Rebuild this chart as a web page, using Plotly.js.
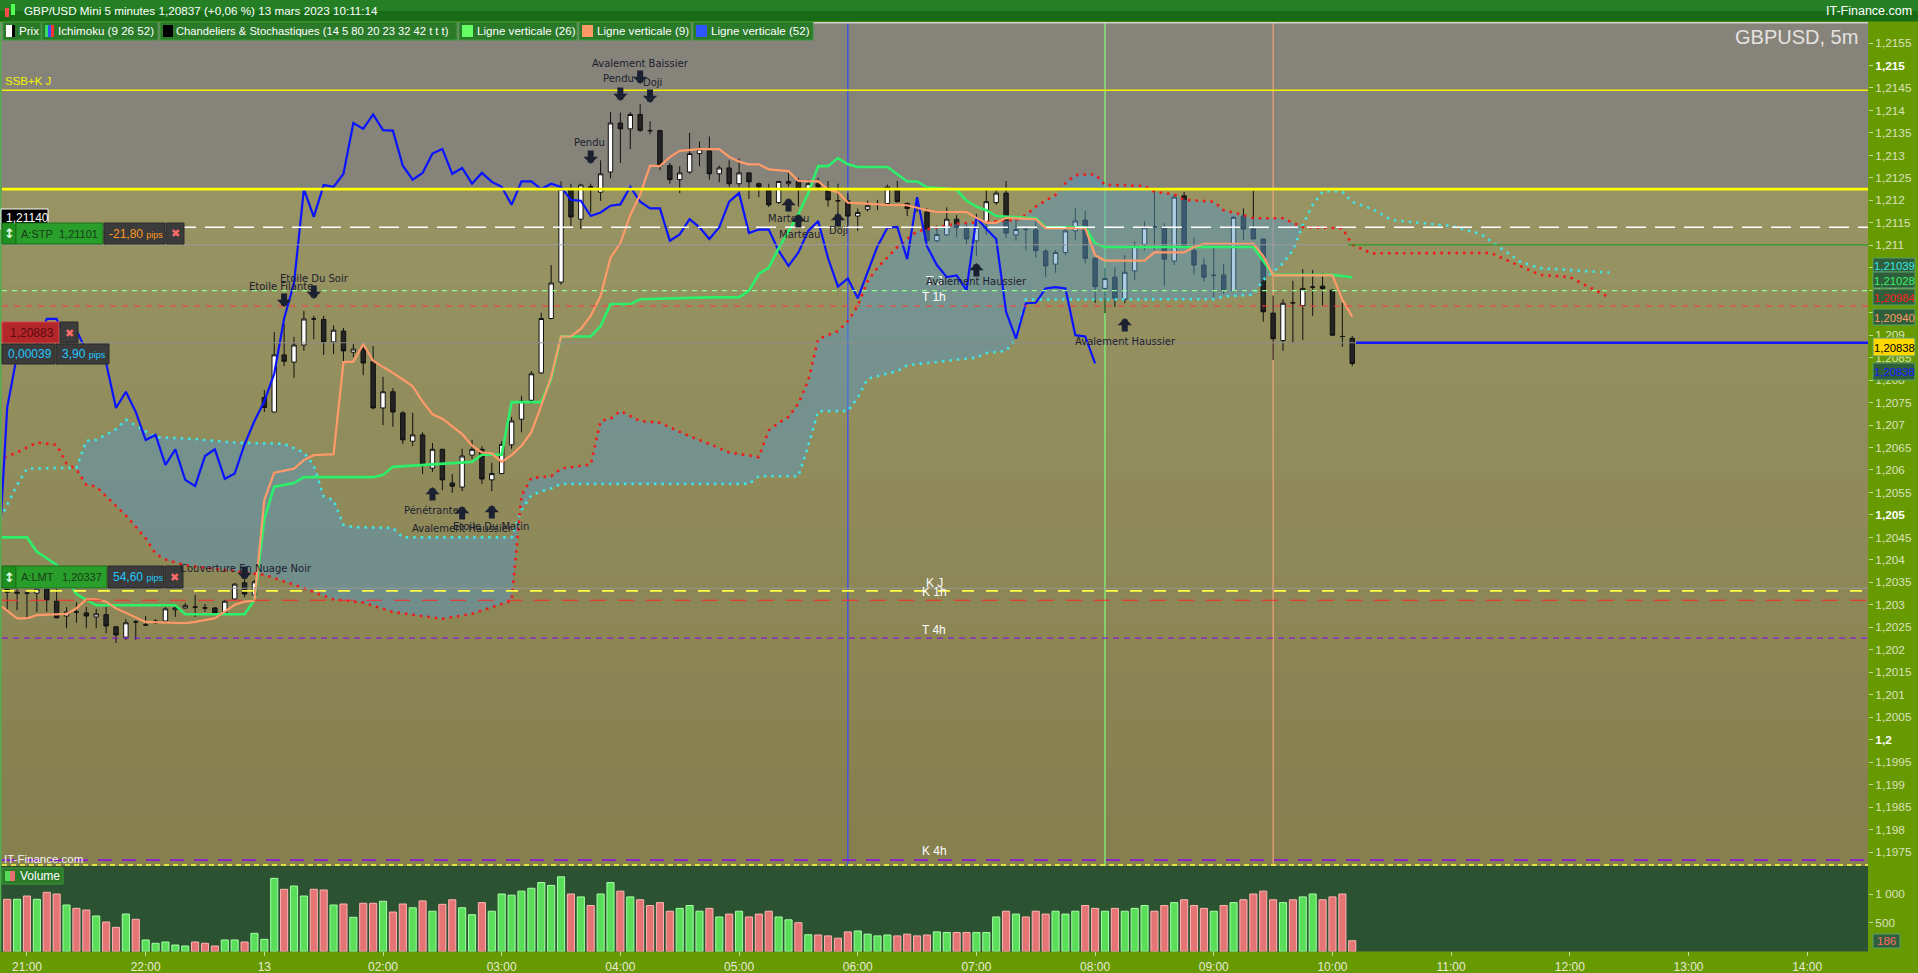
<!DOCTYPE html>
<html><head><meta charset="utf-8">
<script src="https://cdn.plot.ly/plotly-3.0.1.min.js"></script>
<style>html,body{margin:0;padding:0;background:#679900;overflow:hidden}</style>
</head><body><div id="chart" style="width:1918px;height:973px"></div>
<script>
// ---------------- DATA ----------------
const opens = [1.20335,1.20328,1.20326,1.20326,1.20335,1.20308,1.20275,1.20284,1.20282,1.20273,
1.20278,1.20251,1.20228,1.20262,1.20255,1.20260,1.20264,1.20289,1.20293,1.20295,
1.20293,1.20293,1.20282,1.20313,1.20349,1.20322,1.20761,1.20729,1.20856,1.20840,
1.20878,1.20936,1.20935,1.20885,1.20909,1.20862,1.20869,1.20841,1.20738,1.20774,
1.20727,1.20664,1.20678,1.20604,1.20646,1.20571,1.20562,1.20633,1.20646,1.20578,
1.20592,1.20656,1.20713,1.20755,1.20816,1.20937,1.21018,1.21225,1.21158,1.21230,
1.21218,1.21263,1.21372,1.21359,1.21391,1.21355,1.21355,1.21277,1.21246,1.21263,
1.21304,1.21310,1.21259,1.21272,1.21237,1.21261,1.21237,1.21223,1.21195,1.21237,
1.21242,1.21225,1.21237,1.21221,1.21199,1.21199,1.21165,1.21180,1.21190,1.21193,
1.21225,1.21193,1.21182,1.21174,1.21110,1.21123,1.21158,1.21140,1.21110,1.21150,
1.21195,1.21216,1.21123,1.21135,1.21134,1.21087,1.21058,1.21084,1.21132,1.21156,
1.21071,1.21004,1.21029,1.20980,1.21043,1.21102,1.21141,1.21140,1.21065,1.21210,
1.21088,1.21056,1.21033,1.21034,1.20999,1.21165,1.21136,1.21114,1.20949,1.20888,
1.20972,1.20966,1.21007,1.21009,1.21000,1.20897,1.20893];
const highs = [1.20340,1.20335,1.20330,1.20340,1.20340,1.20335,1.20295,1.20306,1.20295,1.20291,
1.20295,1.20253,1.20268,1.20266,1.20275,1.20268,1.20295,1.20300,1.20304,1.20322,
1.20302,1.20295,1.20311,1.20348,1.20355,1.20355,1.20778,1.20907,1.20925,1.20896,
1.20954,1.20943,1.20943,1.20922,1.20916,1.20880,1.20876,1.20876,1.20807,1.20782,
1.20731,1.20727,1.20684,1.20660,1.20647,1.20591,1.20647,1.20667,1.20653,1.20616,
1.20664,1.20718,1.20765,1.20820,1.20950,1.21056,1.21242,1.21237,1.21237,1.21237,
1.21289,1.21396,1.21395,1.21396,1.21414,1.21376,1.21357,1.21283,1.21276,1.21350,
1.21331,1.21342,1.21277,1.21289,1.21293,1.21263,1.21240,1.21237,1.21243,1.21267,
1.21250,1.21246,1.21250,1.21243,1.21237,1.21216,1.21182,1.21199,1.21201,1.21235,
1.21243,1.21195,1.21206,1.21182,1.21144,1.21184,1.21167,1.21148,1.21170,1.21223,
1.21225,1.21243,1.21163,1.21138,1.21153,1.21091,1.21089,1.21140,1.21182,1.21176,
1.21073,1.21049,1.21051,1.21078,1.21108,1.21153,1.21223,1.21149,1.21212,1.21219,
1.21118,1.21071,1.21097,1.21058,1.21165,1.21182,1.21221,1.21114,1.20988,1.20980,
1.21021,1.21047,1.21045,1.21038,1.21002,1.20972,1.20898];
const lows = [1.20284,1.20288,1.20266,1.20284,1.20284,1.20270,1.20248,1.20260,1.20248,1.20248,
1.20237,1.20215,1.20222,1.20222,1.20253,1.20257,1.20264,1.20273,1.20291,1.20273,
1.20284,1.20280,1.20280,1.20311,1.20317,1.20320,1.20729,1.20729,1.20831,1.20805,
1.20865,1.20891,1.20856,1.20858,1.20842,1.20851,1.20811,1.20735,1.20700,1.20696,
1.20658,1.20653,1.20591,1.20596,1.20555,1.20549,1.20553,1.20624,1.20569,1.20553,
1.20591,1.20647,1.20684,1.20747,1.20814,1.20935,1.21012,1.21143,1.21136,1.21173,
1.21199,1.21249,1.21283,1.21314,1.21352,1.21347,1.21267,1.21237,1.21216,1.21259,
1.21276,1.21246,1.21240,1.21230,1.21230,1.21203,1.21207,1.21185,1.21192,1.21230,
1.21186,1.21221,1.21221,1.21186,1.21165,1.21140,1.21132,1.21175,1.21178,1.21190,
1.21195,1.21165,1.21174,1.21108,1.21107,1.21121,1.21118,1.21101,1.21076,1.21123,
1.21190,1.21116,1.21110,1.21089,1.21073,1.21030,1.21039,1.21078,1.21112,1.21060,
1.20972,1.20949,1.20963,1.20971,1.21023,1.21089,1.21089,1.21010,1.21056,1.21098,
1.21034,1.21019,1.20984,1.20992,1.20997,1.21112,1.21114,1.20930,1.20845,1.20865,
1.20883,1.20889,1.20943,1.20965,1.20898,1.20874,1.20831];
const closes = [1.20328,1.20326,1.20326,1.20335,1.20311,1.20271,1.20284,1.20284,1.20275,1.20280,
1.20253,1.20233,1.20260,1.20262,1.20255,1.20264,1.20291,1.20293,1.20298,1.20295,
1.20293,1.20282,1.20308,1.20346,1.20324,1.20351,1.20739,1.20856,1.20842,1.20878,
1.20936,1.20936,1.20885,1.20911,1.20865,1.20869,1.20838,1.20738,1.20774,1.20729,
1.20667,1.20678,1.20611,1.20646,1.20578,1.20564,1.20631,1.20646,1.20580,1.20592,
1.20657,1.20709,1.20753,1.20814,1.20937,1.21016,1.21225,1.21163,1.21234,1.21230,
1.21259,1.21372,1.21359,1.21391,1.21356,1.21355,1.21277,1.21246,1.21261,1.21304,
1.21314,1.21259,1.21272,1.21237,1.21261,1.21241,1.21230,1.21190,1.21242,1.21242,
1.21225,1.21237,1.21230,1.21201,1.21199,1.21165,1.21173,1.21188,1.21191,1.21230,
1.21197,1.21182,1.21182,1.21110,1.21124,1.21158,1.21140,1.21114,1.21140,1.21197,
1.21216,1.21127,1.21135,1.21135,1.21088,1.21054,1.21084,1.21132,1.21154,1.21071,
1.21008,1.21026,1.20982,1.21040,1.21098,1.21139,1.21141,1.21069,1.21207,1.21098,
1.21056,1.21029,1.21033,1.21000,1.21162,1.21136,1.21114,1.20952,1.20892,1.20971,
1.20972,1.21004,1.21007,1.21004,1.20900,1.20897,1.20837];
const volumes = [908,908,965,908,1029,1000,808,750,721,617,
512,419,651,559,199,141,164,111,94,164,
141,94,199,199,164,315,210,1273,1082,1139,
965,1082,1070,808,826,594,838,838,873,686,
826,760,880,700,820,900,760,640,850,700,
1000,980,1050,1100,1200,1150,1300,1000,950,800,
1000,1200,1050,950,900,800,850,700,750,800,
700,750,600,650,700,600,650,700,600,550,
500,290,286,270,230,340,356,300,270,286,
270,300,270,286,340,330,330,330,330,330,
600,700,650,600,700,650,700,650,700,800,
750,700,750,700,750,800,700,800,850,900,
800,750,700,800,850,900,1000,1050,900,850,
900,950,1000,900,950,1000,186];
const volumeDirection = ("rgrgrrgrrg"+"rrgrgggggr"+"rrggrgggrg"+"grrgrgrrgr"+"rgrgrrggrg"+
 "gggggggrgr"+"ggrgrrrrgg"+"grgrgrrrgg"+"rgrrrrgggg"+"rrrrggrrgg"+"grgrrrgggr"+"rgrgggrrgr"+"rrgrgrrrrg"+"rggrrrr").split('');

// Ichimoku (9 26 52) lines (bar index, price)
const tenkanX = [-1,1,2,3,6,7,8,9,10,11,14,17,18,19,21,22,23,24,25,26,27,29,30,31,33,34,35,36,37,38,39,41,42,43,44,46,47,48,49,50,51,52,53,54,55,56,57,58,59,60,61,62,63,64,65,66,67,68,70,72,73,74,75,76,77,79,80,82,83,84,85,89,91,93,94,97,98,99,100,101,103,104,105,109,110,111,115,116,119,120,121,126,127,128,134,135,136];
const tenkanY = [1.20304,1.20270,1.20270,1.20277,1.20280,1.20292,1.20312,1.20312,1.20307,1.20292,
1.20262,1.20259,1.20259,1.20262,1.20270,1.20285,1.20300,1.20307,1.20309,1.20533,
1.20594,1.20603,1.20622,1.20633,1.20635,1.20840,1.20841,1.20880,1.20843,1.20829,
1.20816,1.20786,1.20752,1.20724,1.20714,1.20680,1.20654,1.20639,1.20637,1.20618,
1.20633,1.20654,1.20684,1.20743,1.20807,1.20897,1.20897,1.20914,1.20943,1.20987,
1.21072,1.21105,1.21167,1.21213,1.21277,1.21276,1.21296,1.21310,1.21314,1.21314,
1.21297,1.21286,1.21280,1.21280,1.21269,1.21265,1.21243,1.21242,1.21224,1.21218,
1.21195,1.21190,1.21189,1.21178,1.21174,1.21174,1.21161,1.21150,1.21150,1.21161,
1.21158,1.21158,1.21138,1.21138,1.21078,1.21066,1.21066,1.21084,1.21084,1.21096,
1.21103,1.21103,1.21076,1.21033,1.21033,1.20979,1.20941];
const kijunX = [-1,2,3,5,7,9,17,18,24,25,26,27,29,30,37,38,39,43,47,48,50,51,54,55,56,59,60,61,63,64,71,74,75,76,77,78,79,80,81,82,83,84,85,86,89,90,91,92,93,96,97,98,99,100,104,105,109,110,111,126,128,134,136];
const kijunY = [1.20450,1.20450,1.20418,1.20389,1.20324,1.20299,1.20299,1.20279,1.20279,1.20311,
1.20491,1.20563,1.20571,1.20584,1.20584,1.20589,1.20607,1.20612,1.20618,1.20634,
1.20634,1.20751,1.20751,1.20803,1.20897,1.20897,1.20920,1.20969,1.20969,1.20980,
1.20984,1.20984,1.20999,1.21036,1.21050,1.21093,1.21131,1.21169,1.21216,1.21276,
1.21276,1.21294,1.21280,1.21274,1.21274,1.21259,1.21242,1.21242,1.21229,1.21224,
1.21199,1.21186,1.21178,1.21165,1.21160,1.21140,1.21140,1.21104,1.21096,1.21096,
1.21034,1.21034,1.21029];
const ssaX = [-1,1,2,7,8,9,11,12,13,15,19,23,28,30,31,32,33,34,35,39,40,51,52,53,54,55,56,75,76,80,81,82,85,86,87,90,91,98,99,101,102,103,122,123,126,127,128,129,130,131,132,133,134,135,136,138,140,146,149,153,155,162];
const ssaY = [1.20478,1.20567,1.20603,1.20605,1.20665,1.20667,1.20691,1.20712,1.20699,1.20673,
1.20669,1.20661,1.20658,1.20639,1.20610,1.20541,1.20533,1.20478,1.20473,1.20471,
1.20450,1.20450,1.20511,1.20544,1.20552,1.20559,1.20569,1.20569,1.20586,1.20586,
1.20654,1.20731,1.20731,1.20761,1.20803,1.20820,1.20833,1.20850,1.20860,1.20865,
1.20893,1.20979,1.20980,1.20986,1.20990,1.21023,1.21040,1.21060,1.21089,1.21145,
1.21190,1.21219,1.21221,1.21219,1.21196,1.21181,1.21156,1.21143,1.21125,1.21063,
1.21049,1.21039];
const ssbX = [-1,1,3,5,6,7,8,9,11,12,14,15,16,18,26,30,32,33,36,39,44,47,51,52,53,55,56,59,60,61,62,64,66,69,71,73,76,77,78,79,80,81,82,84,85,86,87,88,90,92,95,96,102,103,104,106,107,108,110,111,115,116,118,119,122,123,125,126,129,131,135,136,138,150,152,155,158,162];
const ssbY = [1.20622,1.20639,1.20661,1.20656,1.20614,1.20601,1.20567,1.20563,1.20520,1.20499,
1.20448,1.20414,1.20401,1.20388,1.20367,1.20337,1.20320,1.20312,1.20305,1.20284,
1.20269,1.20280,1.20309,1.20543,1.20582,1.20586,1.20603,1.20612,1.20709,1.20714,
1.20731,1.20709,1.20705,1.20675,1.20658,1.20639,1.20629,1.20688,1.20705,1.20718,
1.20748,1.20799,1.20891,1.20909,1.20931,1.20965,1.21020,1.21050,1.21096,1.21131,
1.21144,1.21148,1.21156,1.21167,1.21186,1.21212,1.21238,1.21256,1.21258,1.21234,
1.21232,1.21219,1.21213,1.21201,1.21197,1.21178,1.21167,1.21160,1.21160,1.21140,
1.21138,1.21101,1.21082,1.21083,1.21063,1.21034,1.21029,1.20984];
const chikouShift = 26; // the blue line is the close plotted 26 bars back

// horizontal levels (prices)
const ssbKjLevel = 1.21445, zoneLevel = 1.21225, markerLevel = 1.21140, stopLevel = 1.21101;
const t1hLevel = 1.20999, redLevel = 1.20965, orderLevel = 1.20883;
const lmtLevel = 1.20337, kjLevel = 1.20331, k1hLevel = 1.20310, t4hLevel = 1.20226;
const k4hLevel = 1.19732, bottomYellowLevel = 1.19721;
// vertical markers (bar index)
const vline52 = 85, vline26 = 111, vline9 = 128;

const xTickVals = [2,14,26,38,50,62,74,86,98,110,122,134,146,158,170,182];
const xTickText = ['21:00','22:00','13','02:00','03:00','04:00','05:00','06:00','07:00','08:00','09:00','10:00','11:00','12:00','13:00','14:00'];
const priceTickVals = [1.2155,1.215,1.2145,1.214,1.2135,1.213,1.2125,1.212,1.2115,1.211,1.2105,1.21,1.2095,1.209,1.2085,1.208,1.2075,1.207,1.2065,1.206,1.2055,1.205,1.2045,1.204,1.2035,1.203,1.2025,1.202,1.2015,1.201,1.2005,1.2,1.1995,1.199,1.1985,1.198,1.1975];
const priceTickText = ['1,2155','1,215','1,2145','1,214','1,2135','1,213','1,2125','1,212','1,2115','1,211','1,2105','1,21','1,2095','1,209','1,2085','1,208','1,2075','1,207','1,2065','1,206','1,2055','1,205','1,2045','1,204','1,2035','1,203','1,2025','1,202','1,2015','1,201','1,2005','1,2','1,1995','1,199','1,1985','1,198','1,1975'];
const priceTickBold = ['1,215','1,21','1,205','1,2'];
const volTickVals = [500,1000];
const volTickText = ['500','1 000'];

const patterns = [
 {bar:24, name:'Couverture En Nuage Noir', dir:'down'},
 {bar:28, name:'Etoile Filante', dir:'down'},
 {bar:31, name:'Etoile Du Soir', dir:'down'},
 {bar:43, name:'Pénétrante', dir:'up'},
 {bar:46, name:'Avalement Haussier', dir:'up'},
 {bar:49, name:'Etoile Du Matin', dir:'up'},
 {bar:59, name:'Pendu', dir:'down'},
 {bar:62, name:'Pendu', dir:'down'},
 {bar:64, name:'Avalement Baissier', dir:'down'},
 {bar:65, name:'Doji', dir:'down'},
 {bar:79, name:'Marteau', dir:'up'},
 {bar:80, name:'Marteau', dir:'up'},
 {bar:84, name:'Doji', dir:'up'},
 {bar:98, name:'Avalement Haussier', dir:'up'},
 {bar:113, name:'Avalement Haussier', dir:'up'}
];

// ---------------- LAYOUT HELPERS (pixel placement of decorations) ----------------
const W = 1918, H = 973;
const PX = p => p / W, PY = p => 1 - p / H;
const UI = 'Liberation Sans, Arial, sans-serif';
const SANS = 'DejaVu Sans, Liberation Sans, sans-serif';
const PLOT_L = 2, PLOT_R = 1868, PRICE_T = 22, PRICE_B = 866, VOL_B = 951.4;
const patternPx = [
 {tip:580,label:568,dx:0.1},{tip:307,label:287,dx:-0.35},{tip:299,label:279,dx:0.05},
 {tip:487,label:510,dx:-0.1},{tip:506,label:528,dx:0},{tip:505,label:526,dx:-0.1},
 {tip:164,label:143,dx:-0.1},{tip:101,label:79,dx:-0.2},{tip:84,label:64,dx:0},
 {tip:103,label:82,dx:0.2},{tip:198,label:218,dx:0},{tip:214,label:234,dx:0.1},
 {tip:213,label:231,dx:0.05},{tip:263,label:281,dx:0},{tip:318,label:341,dx:0.05}
];

const shapes = [], ann = [];
function rect(x0,y0,x1,y1,fill,line,lw,layer){
  shapes.push({type:'rect',xref:'paper',yref:'paper',x0:PX(x0),x1:PX(x1),y0:PY(y1),y1:PY(y0),
    fillcolor:fill,line:{color:line||fill,width:lw||0},layer:layer||'above'});
}
function text(x,y,t,color,size,anchor,family){
  ann.push({xref:'paper',yref:'paper',x:PX(x),y:PY(y),text:t,showarrow:false,xanchor:anchor||'left',
    yanchor:'middle',font:{color:color,size:size,family:family||UI}});
}
function hline(price,color,width,dash,x0,x1,layer){
  shapes.push({type:'line',xref:'paper',yref:'y',x0:PX(x0==null?PLOT_L:x0),x1:PX(x1==null?PLOT_R:x1),
    y0:price,y1:price,line:{color:color,width:width,dash:dash||'solid'},layer:layer||'above'});
}
function vline(bar,color,width){
  shapes.push({type:'line',xref:'x',yref:'paper',x0:bar,x1:bar,y0:PY(PRICE_B),y1:PY(PRICE_T),
    line:{color:color,width:width},layer:'below'});
}

// backgrounds
const oliveTop=[152,147,99], oliveBot=[134,128,79];
const nb=14, yStart=189, yEnd=PRICE_B;
for(let k=0;k<nb;k++){
  const t=k/(nb-1);
  const c=oliveTop.map((v,j)=>Math.round(v+(oliveBot[j]-v)*t));
  rect(PLOT_L-2, yStart+(yEnd-yStart)*k/nb, PLOT_R, yStart+(yEnd-yStart)*(k+1)/nb+0.5,'rgb('+c.join(',')+')',null,0,'below');
}
rect(PLOT_L-2, PRICE_T, PLOT_R, yStart, '#85837a', null, 0, 'below');
rect(PLOT_L-2, PRICE_B, PLOT_R, VOL_B, '#2c5331', null, 0, 'below');

// vertical lines
vline(vline52,'#2f4dff',1.2);
vline(vline26,'#7dff7d',1.2);
vline(vline9,'#f0a27a',1.2);

// horizontal levels
hline(ssbKjLevel,'#f2f200',1.6);
hline(zoneLevel,'#ffff00',2.6);
hline(markerLevel,'#ffffff',1.6,'20px,9px');
hline(stopLevel,'#9c9c9c',1,'solid',PLOT_L,1348);
hline(stopLevel,'#2e9a2e',1.2,'solid',1348,PLOT_R);
hline(t1hLevel,'#8dff8d',1.2,'5px,5px');
hline(redLevel,'#ff3a3a',1.1,'6px,6px');
hline(orderLevel,'#8e8e8e',1);
hline(orderLevel,'#1414ff',2.6,'solid',1356,PLOT_R);
hline(lmtLevel,'#9a9a9a',1);
hline(kjLevel,'#ffff40',1.6,'12px,12px');
hline(k1hLevel,'#ff2a2a',1.1,'16px,12px');
hline(t4hLevel,'#8a1ad6',1.3,'6px,5px');
hline(k4hLevel,'#8a1ad6',1.6,'14px,10px');
hline(bottomYellowLevel,'#ffff40',1.6,'5px,4px');

// borders
shapes.push({type:'line',xref:'paper',yref:'paper',x0:PX(0.6),x1:PX(0.6),y0:PY(VOL_B),y1:PY(PRICE_T),line:{color:'#4fb04f',width:1.5},layer:'above'});
shapes.push({type:'line',xref:'paper',yref:'paper',x0:PX(813),x1:PX(PLOT_R),y0:PY(22.7),y1:PY(22.7),line:{color:'#d2d2d2',width:1.5},layer:'above'});

// header
rect(0,0,W,11,'#258025',null,0,'above');
rect(0,11,W,21.5,'#186c18',null,0,'above');
rect(5,8,9,17,'#ff4a4a',null,0,'above');
rect(11,4,15,15,'#52ff52',null,0,'above');
text(22,11,'GBP/USD Mini 5 minutes 1,20837 (+0,06 %) 13 mars 2023 10:11:14','#ffffff',11.7);
text(1914,11,'IT-Finance.com','#ffffff',12.5,'right');

// legend row
const legendItems = [
 {x0:3,x1:41,label:'Prix'},{x0:42,x1:158,label:'Ichimoku (9 26 52)'},
 {x0:160,x1:457,label:'Chandeliers & Stochastiques (14 5 80 20 23 32 42 t t t)'},
 {x0:459,x1:577,label:'Ligne verticale (26)',sw:'#66ff66'},
 {x0:579,x1:691,label:'Ligne verticale (9)',sw:'#ff9966'},
 {x0:693,x1:813,label:'Ligne verticale (52)',sw:'#2f55ff'}
];
legendItems.forEach((it,k)=>{
  rect(it.x0,22,it.x1,40,'#2a7a2a','#3c9a3c',1);
  const sx=it.x0+3;
  if(k===0){rect(sx,25,sx+9,37,'#ffffff');rect(sx+6,25,sx+9,37,'#000000');}
  else if(k===1){rect(sx,25,sx+3,37,'#33dd66');rect(sx+3,25,sx+6,37,'#2f55ff');rect(sx+6,25,sx+9,37,'#ff3333');}
  else if(k===2){rect(sx,25,sx+10,37,'#000000');}
  else {rect(sx,25,sx+11,37,it.sw);}
  text(it.x0+(k<3?14:16),31,it.label,'#ffffff',k===2?11.2:11.6);
});

// chart texts
text(1860,37,'GBPUSD, 5m','#e6e2e0',20,'right');
text(3,81,'SSB+K J','#f4f400',11.5);
text(2,859,'IT-Finance.com','#f2f2f2',11.5);
const levelTags = [['T J',281],['T 1h',297],['K J',583],['K 1h',592],['T 4h',629.5],['K 4h',851]];
levelTags.forEach(t=>text(934,t[1],t[0],'#ffffff',12,'center'));

// left order widgets
rect(1,209,48,229,'#000000','#ffffff',1);
text(4,218,'1,21140','#ffffff',12);
function orderWidget(y0,y1,tag,price,pipsTxt,pipsColor,xEnd,mainEnd,pipsEnd){
  const ym=(y0+y1)/2;
  rect(2,y0,16,y1,'#1f8f1f','#146814',1);
  text(9,ym,'<b>↕</b>','#e8ffe8',13,'center',SANS);
  rect(16,y0,mainEnd,y1,'#2a9e2a','#1a6e1a',1);
  text(19,ym,tag,'#163d16',11);
  text(mainEnd-3,ym,price,'#163d16',11,'right');
  rect(mainEnd+1,y0,pipsEnd,y1,'#3b3b3b','#2a2a2a',1);
  text(mainEnd+4,ym,pipsTxt,pipsColor,12);
  rect(pipsEnd+1,y0,xEnd,y1,'#3b3b3b','#2a2a2a',1);
  text((pipsEnd+1+xEnd)/2,ym,'✖','#ff6b6b',11,'center',SANS);
}
orderWidget(223,244,'A:STP','1,21101','-21,80 <span style="font-size:9px">pips</span>','#ff9a22',184,103,165);
orderWidget(566,588,'A:LMT','1,20337','54,60 <span style="font-size:9px">pips</span>','#22c8ff',183,107,164);
rect(2,322,59,343,'#b3262a','#d64a4a',1);
text(8,333,'1,20883','#5a0c0c',12);
rect(60,322,78,343,'#3b3b3b','#2a2a2a',1);
text(69,333,'✖','#ff6b6b',11,'center',SANS);
rect(2,344,55,364,'#3b3b3b','#2a2a2a',1);
text(6,354,'0,00039','#22c8ff',12);
rect(56,344,109,364,'#3b3b3b','#2a2a2a',1);
text(60,354,'3,90 <span style="font-size:9px">pips</span>','#22c8ff',12);

// right axis value boxes
const axisBoxes = [
 {y0:258,y1:272,t:'1,21039',c:'#38e6e6',bg:'#2e5e3a'},
 {y0:272,y1:288,t:'1,21028',c:'#3cf06c',bg:'#2e5e3a'},
 {y0:289,y1:305,t:'1,20984',c:'#ff2222',bg:'#2e5e3a'},
 {y0:309,y1:325,t:'1,20940',c:'#ff9a66',bg:'#2e5e3a'},
 {y0:338,y1:356,t:'1,20838',c:'#000000',bg:'#ffd800'},
 {y0:363,y1:380,t:'1,20838',c:'#1a1aff',bg:'#2e5e3a'}
];
axisBoxes.forEach(b=>{rect(1873,b.y0,1915,b.y1,b.bg,'#5aa06a',1);text(1894,(b.y0+b.y1)/2+0.5,b.t,b.c,11.3,'center');});
rect(1873,934,1900,948,'#2e5e3a','#5aa06a',1);
text(1886.5,941,'186','#ff6b6b',11.5,'center');

// volume legend
rect(2,868,63,884,'#2a7a2a','#3c9a3c',1);
rect(5,871,10,881,'#55dd55');rect(10,871,15,881,'#e67070');
text(18,876,'Volume','#ffffff',12);

// pattern arrows + labels
patterns.forEach((p,k)=>{
  const q=patternPx[k];
  ann.push({x:p.bar,xref:'x',y:PY(q.tip),yref:'paper',ax:0,ay:p.dir==='down'?-15:15,text:'',showarrow:true,
    arrowhead:1,arrowsize:0.4,arrowwidth:6,arrowcolor:'#1b2130',standoff:0});
  ann.push({x:p.bar+q.dx,xref:'x',y:PY(q.label),yref:'paper',text:p.name,showarrow:false,xanchor:'center',yanchor:'middle',
    font:{family:SANS,size:10,color:'#1b2130'}});
});

// ---------------- TRACES ----------------
const idx = closes.map((_,i)=>i);
const fA = ssaX.map((x,i)=>[x,ssaY[i]]).filter(p=>p[0]>=7&&p[0]<=131);
const fB = ssbX.map((x,i)=>[x,ssbY[i]]).filter(p=>p[0]>=7&&p[0]<=131).reverse();
const cloud = {type:'scatter',mode:'lines',x:fA.map(p=>p[0]).concat(fB.map(p=>p[0])),y:fA.map(p=>p[1]).concat(fB.map(p=>p[1])),
  fill:'toself',fillcolor:'rgba(86,150,195,0.48)',line:{width:0},hoverinfo:'skip',xaxis:'x',yaxis:'y'};
const ssa = {type:'scatter',mode:'lines',x:ssaX,y:ssaY,line:{color:'#3fe4e4',width:2.6,dash:'2.5px,5px'},hoverinfo:'skip'};
const ssb = {type:'scatter',mode:'lines',x:ssbX,y:ssbY,line:{color:'#f01a1a',width:2.6,dash:'2.5px,5px'},hoverinfo:'skip'};
const chX = closes.slice(chikouShift-1).map((_,k)=>k-1);
const chikou = {type:'scatter',mode:'lines',x:chX,y:closes.slice(chikouShift-1),line:{color:'#0a14ff',width:2.2},hoverinfo:'skip'};
const kijun = {type:'scatter',mode:'lines',x:kijunX,y:kijunY,line:{color:'#2cf06a',width:2.6},hoverinfo:'skip'};
const tenkan = {type:'scatter',mode:'lines',x:tenkanX,y:tenkanY,line:{color:'#ff9a6a',width:2.2},hoverinfo:'skip'};
const candles = {type:'candlestick',x:idx,open:opens,high:highs,low:lows,close:closes,
  increasing:{line:{color:'#101010',width:1},fillcolor:'#ffffff'},
  decreasing:{line:{color:'#101010',width:1},fillcolor:'#242424'},
  whiskerwidth:0,hoverinfo:'skip',xaxis:'x',yaxis:'y'};
const vol = {type:'bar',x:idx,y:volumes,xaxis:'x',yaxis:'y2',width:0.72,hoverinfo:'skip',
  marker:{color:volumeDirection.map(d=>d==='g'?'#5ade5a':'#e57575'),line:{color:volumeDirection.map(d=>d==='g'?'#a6ffa6':'#ffb4b4'),width:1}}};

const bold = t => priceTickBold.includes(t) ? '<b><span style="color:#ffffff">'+t+'</span></b>' : t;
const layout = {
  width:W,height:H,margin:{l:0,r:0,t:0,b:0},paper_bgcolor:'#679900',plot_bgcolor:'#8e8a5a',
  showlegend:false,hovermode:false,dragmode:false,boxgap:0.36,
  font:{family:UI,color:'#dfe6c6'},
  xaxis:{domain:[PX(PLOT_L),PX(PLOT_R)],range:[-0.526,188.15],anchor:'y2',rangeslider:{visible:false},
    tickvals:xTickVals,ticktext:xTickText,showgrid:false,zeroline:false,showline:false,
    ticks:'outside',ticklen:4,tickcolor:'#c6d6a0',tickfont:{size:12,color:'#e6ebd6',family:UI},fixedrange:true},
  yaxis:{domain:[PY(PRICE_B),PY(PRICE_T)],range:[1.1971885,1.2159675],side:'right',anchor:'x',
    tickvals:priceTickVals,ticktext:priceTickText.map(bold),showgrid:false,zeroline:false,showline:false,
    ticks:'outside',ticklen:4,tickcolor:'#c6d6a0',tickfont:{size:11.8,color:'#d9e2bd',family:UI},fixedrange:true},
  yaxis2:{domain:[PY(VOL_B),PY(PRICE_B)],range:[0,1488],side:'right',anchor:'x',
    tickvals:volTickVals,ticktext:volTickText,showgrid:false,zeroline:false,showline:false,
    ticks:'outside',ticklen:4,tickcolor:'#c6d6a0',tickfont:{size:11.8,color:'#d9e2bd',family:UI},fixedrange:true},
  shapes:shapes,annotations:ann
};
Plotly.newPlot('chart',[cloud,ssa,ssb,chikou,kijun,tenkan,candles,vol],layout,{staticPlot:true,displayModeBar:false});
</script></body></html>
